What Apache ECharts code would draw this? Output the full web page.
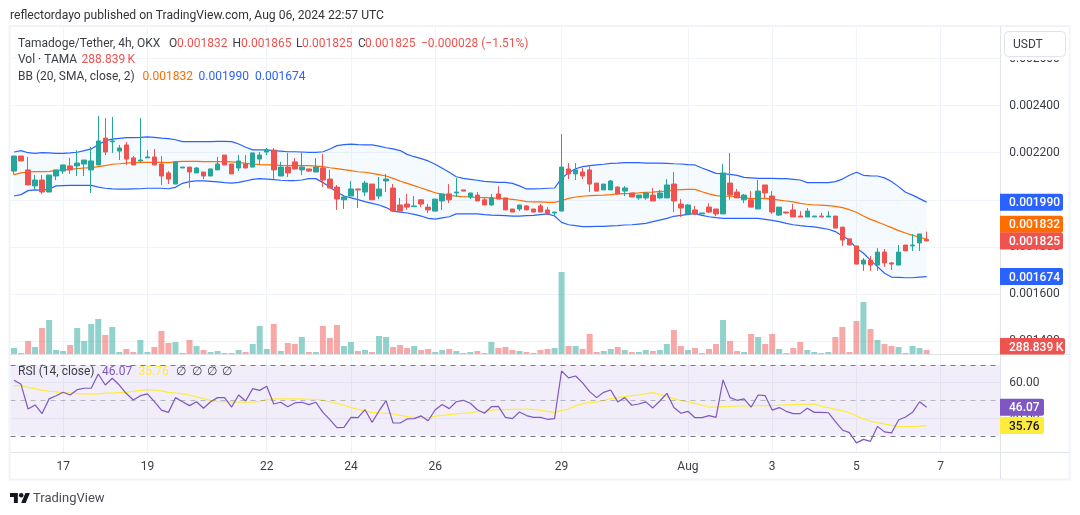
<!DOCTYPE html>
<html>
<head>
<meta charset="utf-8">
<title>Tamadoge/Tether 4h</title>
<script src="https://cdn.jsdelivr.net/npm/echarts@6/dist/echarts.min.js"></script>
<style>
  html, body { margin: 0; padding: 0; background: #fff; }
  #chart { width: 1080px; height: 515px; }
</style>
</head>
<body>
<div id="chart"></div>
<script>
// Prices are in millionths of a USDT, volume in thousands of TAMA.
const opens = [2122,2186,2127,2059,2084,2033,2101,2122,2144,2144,2152,2127,2148,2262,2246,2207,2233,2178,2165,2178,2182,2152,2114,2067,2135,2139,2114,2118,2101,2127,2190,2152,2135,2152,2139,2173,2203,2211,2101,2139,2161,2127,2131,2118,2135,2088,2054,2000,2016,2046,2033,2067,2016,2080,2050,1978,1982,1971,2000,1969,1952,1995,2025,2029,2042,2012,2020,2000,1978,2025,2008,1961,1961,1974,1961,1974,1957,1944,1952,2131,2110,2118,2127,2071,2042,2042,2054,2037,2029,2008,2008,2020,2008,2008,2067,1982,1940,1957,1940,1969,1961,1940,2071,2033,2000,2000,1961,2063,2016,1935,1948,1957,1931,1927,1927,1931,1927,1931,1884,1834,1804,1727,1744,1723,1778,1732,1723,1808,1804,1817,1832];
const closes = [2186,2165,2063,2084,2033,2105,2127,2148,2127,2156,2169,2165,2250,2203,2250,2220,2173,2148,2169,2182,2148,2101,2088,2161,2139,2118,2135,2101,2131,2152,2148,2110,2165,2135,2199,2190,2211,2127,2139,2114,2131,2139,2122,2139,2084,2050,2003,2012,2046,2042,2071,2000,2046,2088,1952,1952,1969,1974,1982,1957,2003,2025,2000,2033,2037,2029,1995,1978,2008,2003,1957,1948,1978,1957,1948,1948,1940,1948,2139,2110,2127,2101,2067,2037,2067,2080,2025,2050,2012,2020,2029,1995,2029,2063,1995,1965,1978,1940,1944,1948,1940,2114,2020,2008,2020,1969,2037,2029,1948,1969,1944,1927,1927,1952,1931,1927,1931,1880,1829,1808,1727,1744,1723,1778,1732,1727,1778,1783,1808,1855,1825];
const highs = [2186,2186,2182,2105,2105,2105,2127,2148,2178,2211,2169,2224,2356,2347,2352,2233,2245,2186,2347,2211,2216,2186,2122,2161,2139,2139,2139,2118,2131,2182,2190,2152,2190,2190,2199,2203,2220,2220,2161,2199,2177,2203,2131,2177,2194,2127,2063,2016,2080,2046,2080,2067,2097,2110,2067,2008,2025,2016,2003,1982,2003,2025,2067,2092,2042,2029,2033,2008,2025,2058,2008,1961,1978,1978,1961,1982,1969,1948,2279,2156,2156,2135,2148,2071,2067,2084,2058,2058,2029,2020,2033,2050,2042,2088,2118,2003,1982,1974,1944,1986,1961,2152,2199,2046,2025,2037,2084,2063,2037,1969,1948,1982,1952,1965,1931,1944,1952,1931,1884,1834,1804,1753,1761,1795,1791,1736,1808,1808,1855,1855,1865];
const lows = [2107,2165,2063,2044,2025,2033,2084,2110,2110,2101,2101,2029,2148,2190,2199,2169,2148,2148,2161,2178,2148,2063,2067,2067,2135,2050,2114,2088,2101,2127,2148,2110,2122,2135,2139,2152,2190,2088,2101,2097,2127,2105,2118,2118,2054,2050,1957,1961,2016,1965,2016,2000,2003,2033,1952,1952,1957,1971,1969,1944,1952,1957,1986,2012,2037,2003,1995,1978,1974,2003,1957,1948,1952,1957,1948,1948,1935,1931,1952,2088,2084,2088,2033,2037,2042,2042,2025,2016,2012,2000,2000,1995,2003,2008,1948,1927,1935,1935,1940,1944,1931,1940,2000,2008,1986,1969,1961,2008,1940,1931,1940,1927,1927,1927,1927,1927,1927,1880,1804,1808,1727,1698,1698,1698,1715,1702,1723,1783,1783,1783,1825];
const volumes = [433,72,939,505,1877,2455,289,217,650,1877,939,2166,2527,1372,1950,144,361,144,1011,144,505,1661,794,867,72,1011,578,289,144,217,72,72,289,144,722,2022,361,2166,217,794,722,1228,144,144,2022,1155,2094,578,867,217,289,144,1300,1228,505,650,433,578,289,361,144,289,361,217,72,144,217,72,867,433,505,289,217,144,72,289,361,433,5921,578,578,361,1444,144,217,361,505,289,144,144,289,217,289,722,1733,578,289,433,72,361,722,2455,939,217,144,1444,1228,722,1444,361,72,433,867,289,144,72,144,1228,1950,144,2383,3755,1805,1011,722,578,505,72,578,433,288.839];
const bbUpper = [2203,2209,2200,2197,2200,2199,2197,2197,2199,2202,2209,2216,2234,2251,2258,2261,2264,2264,2265,2267,2265,2262,2260,2255,2247,2247,2247,2247,2247,2248,2248,2247,2237,2223,2212,2212,2212,2209,2207,2204,2204,2203,2201,2201,2204,2216,2230,2234,2236,2234,2233,2233,2228,2221,2216,2209,2193,2183,2175,2165,2151,2134,2117,2098,2091,2087,2083,2078,2076,2074,2074,2070,2059,2046,2046,2047,2049,2050,2091,2115,2132,2141,2145,2148,2151,2155,2156,2158,2158,2158,2156,2156,2156,2155,2153,2152,2149,2148,2135,2124,2112,2111,2108,2104,2095,2093,2091,2091,2091,2090,2090,2087,2084,2073,2073,2073,2073,2077,2088,2104,2117,2104,2102,2101,2093,2078,2056,2032,2020,2005,1990];
const bbBasis = [2107,2114,2118,2120,2120,2121,2124,2127,2129,2132,2135,2137,2141,2145,2151,2153,2156,2158,2159,2159,2159,2159,2158,2161,2163,2163,2163,2162,2162,2162,2162,2161,2159,2155,2152,2149,2148,2148,2146,2145,2146,2145,2145,2143,2141,2136,2132,2128,2124,2119,2117,2112,2107,2101,2091,2080,2070,2060,2050,2040,2030,2023,2019,2016,2013,2012,2010,2009,2008,2006,2005,2002,1998,1992,1991,1991,1989,1989,1996,2006,2012,2015,2018,2019,2020,2022,2025,2026,2027,2029,2032,2033,2036,2037,2042,2043,2044,2044,2034,2025,2018,2016,2015,2013,2008,2005,2005,2006,2003,1999,1995,1991,1985,1981,1978,1977,1975,1972,1967,1958,1947,1931,1917,1906,1894,1882,1869,1859,1849,1842,1832];
const bbLower = [2016,2022,2039,2042,2040,2046,2059,2060,2061,2061,2061,2061,2054,2049,2046,2045,2045,2046,2047,2049,2049,2049,2047,2053,2070,2077,2080,2080,2078,2076,2073,2071,2074,2080,2087,2090,2088,2086,2083,2081,2081,2084,2090,2090,2073,2053,2033,2016,2008,2001,1992,1985,1978,1967,1952,1948,1944,1938,1931,1921,1918,1923,1928,1940,1940,1940,1940,1937,1935,1934,1933,1931,1931,1933,1934,1937,1940,1931,1904,1894,1890,1886,1886,1887,1887,1889,1890,1893,1894,1897,1900,1907,1914,1921,1930,1934,1938,1941,1934,1928,1924,1921,1921,1921,1921,1921,1921,1917,1913,1907,1900,1894,1890,1887,1885,1880,1875,1865,1846,1829,1794,1773,1744,1716,1688,1672,1671,1669,1669,1672,1674];
const rsi = [61.3,59.0,45.1,47.4,42.5,50.8,52.6,54.5,53.0,56.0,56.8,56.8,64.8,58.6,62.4,58.6,53.8,50.2,52.6,53.6,49.2,44.5,43.2,51.5,49.2,47.0,49.2,45.5,49.2,51.5,51.5,46.2,53.0,49.6,56.6,55.6,57.9,47.9,48.9,46.4,48.5,48.9,47.6,48.9,43.2,39.1,34.6,34.8,40.4,40.2,44.7,37.6,44.0,49.8,37.2,37.2,39.5,39.7,41.2,38.5,44.7,47.6,45.3,49.2,50.0,48.3,44.7,42.7,46.4,46.6,40.4,39.7,43.4,41.4,40.4,40.4,39.3,39.7,66.5,62.6,63.7,59.8,54.9,51.5,54.5,55.8,49.1,51.5,47.2,47.9,49.1,45.7,49.6,53.9,45.9,42.7,43.8,40.2,40.2,41.4,40.4,61.5,51.5,50.0,50.8,46.1,53.0,52.6,44.5,45.9,43.8,42.5,42.5,45.5,43.2,43.2,43.0,38.0,33.3,31.8,26.0,28.0,26.9,35.3,32.2,31.6,38.9,40.6,43.2,49.2,46.07];
const rsiMa = [58.3,58.3,57.3,56.6,55.6,55.1,54.7,54.3,54.1,53.8,53.6,53.4,53.6,54.0,54.1,54.3,54.5,55.1,55.6,56.0,55.8,55.3,54.5,54.1,53.6,53.0,51.9,50.9,50.0,49.4,49.2,49.1,48.9,48.9,48.9,49.4,50.4,50.8,50.8,50.8,50.8,50.8,50.6,50.6,50.0,49.2,48.3,47.2,45.9,44.9,44.0,43.2,42.9,42.7,42.3,41.5,40.8,40.4,40.2,40.2,41.0,41.5,41.9,42.3,42.7,43.0,43.6,43.6,44.4,44.7,44.7,44.9,44.9,45.1,44.9,44.4,43.8,43.2,44.2,45.1,47.0,48.1,48.7,49.1,50.0,50.9,51.5,52.1,52.6,53.0,53.8,54.3,53.2,52.1,50.9,49.8,49.1,48.3,47.2,46.1,46.1,46.4,46.6,46.8,46.8,47.0,47.0,47.0,47.0,47.2,47.4,47.6,47.7,47.9,47.9,46.6,45.9,44.9,44.0,43.0,41.2,39.5,38.2,37.4,36.7,35.9,35.3,35.2,35.2,35.5,35.76];

const barSlots = 141;
const dayTickSlots = [7, 19, 36, 48, 60, 78, 96, 108, 120, 132];
const dayTickLabels = ['17', '19', '22', '24', '26', '29', 'Aug', '3', '5', '7'];
const priceTicks = { min: 1400, max: 2600, step: 200 };
const rsiTicks = { min: 20, max: 80, step: 20 };
const rsiLevels = [70, 50, 30];

const UP = '#26a69a', DOWN = '#ef5350', BLUE = '#2962ff', ORANGE = '#ff6d00';
const PURPLE = '#7e57c2', YELLOW = '#ffeb3b', TEXT = '#3a3d45';
const GRID_LINE = '#f0f3fa', FRAME = '#e0e3eb';
const FONT_FAMILY = 'Roboto, sans-serif';

const categories = Array.from({ length: barSlots }, (_, i) => {
  const at = dayTickSlots.indexOf(i);
  return at < 0 ? '' : dayTickLabels[at];
});
const isDayTick = (_, value) => value !== '';
const plotLeft = 10.5, slotWidth = 7.02, plotWidth = barSlots * slotWidth;

const chart = echarts.init(document.getElementById('chart'), null, { renderer: 'canvas' });

function timeAxis(gridIndex, extra) {
  return Object.assign({
    type: 'category', gridIndex, data: categories, boundaryGap: true,
    axisLine: { show: false }, axisTick: { show: false }, axisLabel: { show: false },
    splitLine: { show: false }
  }, extra);
}
const dayLines = { show: true, alignWithLabel: true, interval: isDayTick, lineStyle: { color: GRID_LINE, width: 1 } };

chart.setOption({
  animation: false,
  grid: [
    { left: plotLeft, width: plotWidth, top: 58.5, height: 282.6 },
    { left: plotLeft, width: plotWidth, top: 26, height: 328 },
    { left: plotLeft, width: plotWidth, top: 347.05, height: 106.5 },
    { left: plotLeft, width: plotWidth, top: 355, height: 97 }
  ],
  xAxis: [
    timeAxis(0),
    timeAxis(1, { splitLine: dayLines }),
    timeAxis(2),
    timeAxis(3, {
      splitLine: dayLines,
      axisLabel: {
        show: true, interval: isDayTick, margin: 9, color: TEXT,
        fontFamily: FONT_FAMILY, fontSize: 12
      }
    })
  ],
  yAxis: [
    {
      gridIndex: 0, type: 'value', position: 'right', scale: false,
      min: priceTicks.min, max: priceTicks.max, interval: priceTicks.step,
      axisLine: { show: false }, axisTick: { show: false },
      splitLine: { lineStyle: { color: GRID_LINE, width: 1 } },
      axisLabel: {
        margin: 9, color: TEXT, fontFamily: FONT_FAMILY, fontSize: 12, padding: [2, 0, 0, 0],
        formatter: v => (v / 1e6).toFixed(6)
      }
    },
    { gridIndex: 1, type: 'value', min: 0, max: 23685, show: false },
    {
      gridIndex: 2, type: 'value', position: 'right',
      min: rsiTicks.min, max: rsiTicks.max, interval: rsiTicks.step,
      axisLine: { show: false }, axisTick: { show: false },
      splitLine: { showMinLine: false, showMaxLine: false, lineStyle: { color: GRID_LINE, width: 1 } },
      axisLabel: {
        margin: 9, color: TEXT, fontFamily: FONT_FAMILY, fontSize: 12, padding: [2, 0, 0, 0],
        showMinLabel: false, showMaxLabel: false, formatter: v => v.toFixed(2)
      }
    },
    { gridIndex: 3, type: 'value', show: false }
  ],
  series: [
    {
      name: 'Vol', type: 'bar', xAxisIndex: 1, yAxisIndex: 1, barWidth: 6, z: 1,
      data: volumes.map((v, i) => ({
        value: v,
        itemStyle: { color: closes[i] >= opens[i] ? 'rgba(38,166,154,0.5)' : 'rgba(239,83,80,0.5)' }
      }))
    },
    {
      name: 'BB band', type: 'custom', xAxisIndex: 0, yAxisIndex: 0, z: 2, silent: true,
      data: [[0, bbUpper[0]]],
      clip: false,
      renderItem(_, api) {
        const top = bbUpper.map((v, i) => api.coord([i, v]));
        const bottom = bbLower.map((v, i) => api.coord([i, v])).reverse();
        return {
          type: 'polygon',
          shape: { points: top.concat(bottom) },
          style: { fill: 'rgba(33,150,243,0.05)', stroke: null }
        };
      }
    },
    {
      name: 'Price', type: 'candlestick', xAxisIndex: 0, yAxisIndex: 0, barWidth: 5, z: 4,
      itemStyle: { color: UP, color0: DOWN, borderColor: UP, borderColor0: DOWN, borderWidth: 1 },
      data: opens.map((o, i) => [o, closes[i], lows[i], highs[i]])
    },
    {
      name: 'BB basis', type: 'line', xAxisIndex: 0, yAxisIndex: 0, z: 3, data: bbBasis,
      symbol: 'none', lineStyle: { color: ORANGE, width: 1.2 }
    },
    {
      name: 'BB upper', type: 'line', xAxisIndex: 0, yAxisIndex: 0, z: 3, data: bbUpper,
      symbol: 'none', lineStyle: { color: BLUE, width: 1.2 }
    },
    {
      name: 'BB lower', type: 'line', xAxisIndex: 0, yAxisIndex: 0, z: 3, data: bbLower,
      symbol: 'none', lineStyle: { color: BLUE, width: 1.2 }
    },
    {
      name: 'RSI', type: 'line', xAxisIndex: 2, yAxisIndex: 2, z: 4, data: rsi,
      symbol: 'none', lineStyle: { color: PURPLE, width: 1.2 },
      markArea: {
        silent: true, z: 1,
        itemStyle: { color: 'rgba(126,87,194,0.1)' },
        data: [[{ yAxis: rsiLevels[0] }, { yAxis: rsiLevels[2] }]]
      },
      markLine: {
        silent: true, symbol: 'none', label: { show: false }, animation: false,
        data: rsiLevels.map(level => ({
          yAxis: level,
          lineStyle: {
            type: [5, 5], width: 1,
            color: level === 50 ? 'rgba(120,123,134,0.5)' : '#787b86'
          }
        }))
      }
    },
    {
      name: 'RSI MA', type: 'line', xAxisIndex: 2, yAxisIndex: 2, z: 3, data: rsiMa,
      symbol: 'none', lineStyle: { color: YELLOW, width: 1.2 }
    }
  ]
});

// Panel frame, header text, scale button and last-value tags sit on top of the plot.
const G_Z = 50;
function text(str, x, y, fill, opts) {
  return {
    type: 'text', z: G_Z + 2, x, y, silent: true,
    style: Object.assign({
      text: str, fill, align: 'left', verticalAlign: 'middle',
      font: '12px ' + FONT_FAMILY
    }, opts || {})
  };
}
function hline(y, x1, x2, color) {
  return { type: 'line', z: G_Z, silent: true, shape: { x1, y1: y, x2, y2: y }, style: { stroke: color, lineWidth: 1 } };
}
function vline(x, y1, y2, color) {
  return { type: 'line', z: G_Z, silent: true, shape: { x1: x, y1, x2: x, y2 }, style: { stroke: color, lineWidth: 1 } };
}
// The offset keeps neighbouring tags from covering one another.
function tag(axisIndex, value, label, fill, width, textColor, offset) {
  const y = chart.convertToPixel({ yAxisIndex: axisIndex }, value) + (offset || 0);
  return [
    {
      type: 'rect', z: G_Z + 1, silent: true,
      shape: { x: 1000, y: y - 8.5, width, height: 17, r: [0, 2, 2, 0] },
      style: { fill }
    },
    text(label, 1009, y + 1, textColor || '#ffffff', { font: '500 12px ' + FONT_FAMILY })
  ];
}
function logoPart(type, shape) {
  return {
    type, z: G_Z, silent: true, x: 10, y: 490.8, scaleX: 0.56, scaleY: 0.56,
    shape, style: { fill: '#131722' }
  };
}
const last = opens.length - 1;

chart.setOption({
  graphic: [
    text('reflectordayo published on TradingView.com, Aug 06, 2024 22:57 UTC', 10, 16, '#333333', { font: '12.13px ' + FONT_FAMILY }),

    { type: 'rect', z: G_Z, silent: true, shape: { x: 9.5, y: 26, width: 1060, height: 453.5 }, style: { fill: null, stroke: GRID_LINE, lineWidth: 2 } },
    vline(1000.5, 26, 479, FRAME),
    hline(354.5, 10, 1069, FRAME),
    hline(452.5, 10, 1069, FRAME),

    text('Tamadoge/Tether, 4h, OKX', 18, 43.5, TEXT),
    text('O', 169, 43.5, TEXT), text('0.001832', 177, 43.5, DOWN),
    text('H', 232.5, 43.5, TEXT), text('0.001865', 241, 43.5, DOWN),
    text('L', 296, 43.5, TEXT), text('0.001825', 302, 43.5, DOWN),
    text('C', 358, 43.5, TEXT), text('0.001825', 365, 43.5, DOWN),
    text('\u22120.000028 (\u22121.51%)', 421, 43.5, DOWN),
    text('Vol \u00b7 TAMA', 18, 60, TEXT), text('288.839\u2009K', 81.5, 60, DOWN),
    text('BB (20, SMA, close, 2)', 18, 76.5, TEXT),
    text('0.001832', 142.5, 76.5, ORANGE), text('0.001990', 198.5, 76.5, BLUE), text('0.001674', 255, 76.5, BLUE),
    text('RSI (14, close)', 18, 371.5, TEXT),
    text('46.07', 102, 371.5, PURPLE), text('35.76', 138.5, 371.5, YELLOW),
    text('\u2205', 176, 371.5, TEXT), text('\u2205', 192, 371.5, TEXT), text('\u2205', 207, 371.5, TEXT), text('\u2205', 222, 371.5, TEXT),

    { type: 'rect', z: G_Z, silent: true, shape: { x: 1001, y: 27, width: 68, height: 33 }, style: { fill: '#ffffff' } },
    {
      type: 'rect', z: G_Z + 1, silent: true,
      shape: { x: 1004.5, y: 31.5, width: 61, height: 25, r: 4 },
      style: { fill: '#ffffff', stroke: FRAME, lineWidth: 1 }
    },
    text('USDT', 1013, 45, TEXT),

    ...tag(0, bbUpper[last], (bbUpper[last] / 1e6).toFixed(6), BLUE, 63),
    ...tag(0, bbBasis[last], (bbBasis[last] / 1e6).toFixed(6), ORANGE, 63, null, -15),
    ...tag(0, closes[last], (closes[last] / 1e6).toFixed(6), DOWN, 63),
    ...tag(0, bbLower[last], (bbLower[last] / 1e6).toFixed(6), BLUE, 63),
    {
      type: 'rect', z: G_Z + 1, silent: true,
      shape: { x: 1000, y: 338, width: 65, height: 16.5, r: [0, 2, 2, 0] }, style: { fill: DOWN }
    },
    text('288.839\u2009K', 1009, 347.5, '#ffffff', { font: '500 12px ' + FONT_FAMILY }),
    ...tag(2, rsi[last], rsi[last].toFixed(2), PURPLE, 44),
    ...tag(2, rsiMa[last], rsiMa[last].toFixed(2), YELLOW, 44, '#131722'),

    logoPart('polygon', { points: [[14, 22], [7, 22], [7, 11], [0, 11], [0, 4], [14, 4]] }),
    logoPart('polygon', { points: [[28, 22], [20, 22], [27.5, 4], [35.5, 4]] }),
    logoPart('circle', { cx: 20, cy: 8, r: 4 }),
    text('TradingView', 33, 499, '#4a4d55', { font: '13px ' + FONT_FAMILY })
  ]
});
</script>
</body>
</html>
